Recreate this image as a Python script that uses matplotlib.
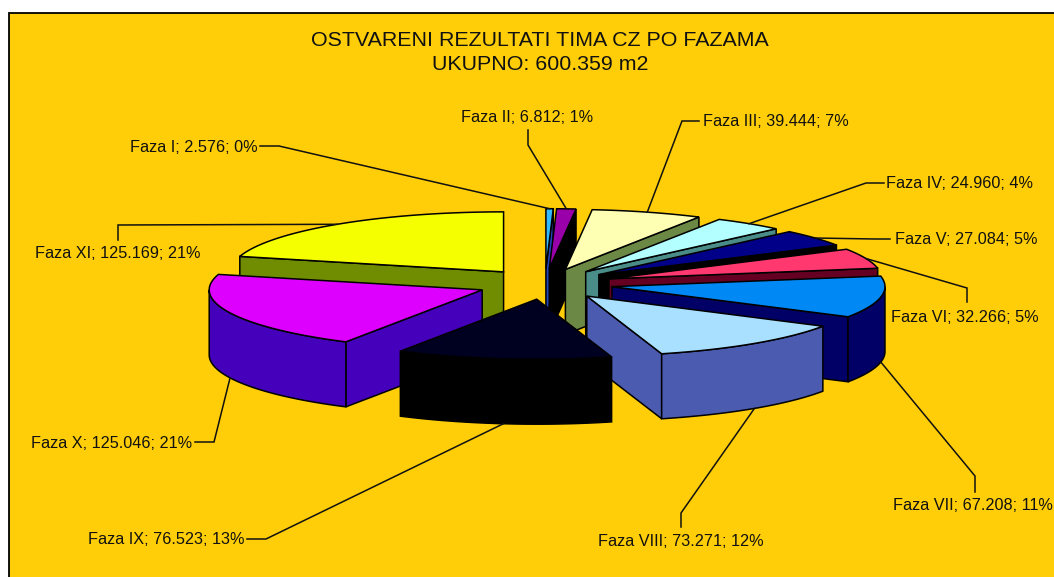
import numpy as np
import matplotlib
matplotlib.use("Agg")
import matplotlib.pyplot as plt
from matplotlib.patches import Polygon, Rectangle

plt.rcParams["font.family"] = ["Liberation Sans", "DejaVu Sans"]

names = ["Faza I", "Faza II", "Faza III", "Faza IV", "Faza V", "Faza VI",
         "Faza VII", "Faza VIII", "Faza IX", "Faza X", "Faza XI"]
values = [2.576, 6.812, 39.444, 24.960, 27.084, 32.266,
          67.208, 73.271, 76.523, 125.046, 125.169]
percents = [0, 1, 7, 4, 5, 5, 11, 12, 13, 21, 21]

top_colors = ["#33BBFF", "#9900AA", "#FFFFB3", "#B3FFFF", "#000088", "#FF3870",
              "#0088F5", "#AAE0FF", "#000020", "#DD00FF", "#F5FF00"]
side_colors = ["#2244BB", "#000000", "#6B8844", "#4A8C88", "#000000", "#660022",
               "#000066", "#4A5BB0", "#000000", "#4400BB", "#708C00"]

# pie geometry, in pixels
cx, cy = 545, 284
rx, ry = 273, 60
ex, ey = 68, 15.3
depth = 65

# label x, y, ha, then the elbow of the leader and where it leaves the label
label_pos = [(258, 147, "right"), (527, 117, "center"), (703, 121, "left"),
             (886, 184, "left"), (895, 240, "left"), (965, 318, "center"),
             (973, 505, "center"), (681, 541, "center"), (245, 540, "right"),
             (192, 443, "right"), (118, 254, "center")]
elbows = [(279, 146), (528, 145), (682, 121), (866, 183), (875, 239), (967, 288),
          (975, 476), (681, 513), (266, 539), (214, 442), (118, 225)]
leader_starts = [(260, 146), (528, 130), (699, 121), (884, 183), (890, 239), (967, 302),
                 (975, 492), (681, 527), (247, 539), (195, 442), (118, 240)]

fig = plt.figure(figsize=(10.54, 5.77), dpi=100, facecolor="white")
ax = fig.add_axes([0, 0, 1, 1])
ax.set_xlim(0, 1054)
ax.set_ylim(577, 0)
ax.axis("off")

ax.add_patch(Rectangle((8.5, 12.7), 1060, 580, fc="#FFCE08", ec="black", lw=1.3, zorder=0))

total = sum(values)
edges = np.concatenate([[0], np.cumsum(values)]) / total * 2 * np.pi
mids = (edges[:-1] + edges[1:]) / 2


def rim(t, x0, y0):
    return x0 + rx * np.sin(t), y0 - ry * np.cos(t)


# back slices first, the ones nearest the viewer go on top
order = np.argsort(-np.cos(mids))
z = 1
for i in order:
    t1, t2 = edges[i], edges[i + 1]
    x0 = cx + ex * np.sin(mids[i])
    y0 = cy - ey * np.cos(mids[i])
    ts = np.linspace(t1, t2, 60)
    xs, ys = rim(ts, x0, y0)

    # only the cut faces that turn towards the viewer
    for t, seen in ((t1, np.sin(t1) < 0), (t2, np.sin(t2) > 0)):
        if not seen:
            continue
        xe, ye = rim(t, x0, y0)
        side = [(x0, y0), (xe, ye), (xe, ye + depth), (x0, y0 + depth)]
        ax.add_patch(Polygon(side, fc=side_colors[i], ec="black", lw=1.1, zorder=z))
        z += 1

    front = np.cos(ts) <= 0
    if front.any():
        wall = list(zip(xs[front], ys[front])) + list(zip(xs[front][::-1], ys[front][::-1] + depth))
        ax.add_patch(Polygon(wall, fc=side_colors[i], ec="black", lw=1.1, zorder=z))
        z += 1

    top = [(x0, y0)] + list(zip(xs, ys))
    ax.add_patch(Polygon(top, fc=top_colors[i], ec="black", lw=1.1, zorder=z))
    z += 1

for i in range(len(values)):
    x0 = cx + ex * np.sin(mids[i])
    y0 = cy - ey * np.cos(mids[i])
    xe, ye = rim(mids[i], x0, y0)
    if np.cos(mids[i]) < 0:
        ye += depth
    ax.plot([leader_starts[i][0], elbows[i][0], xe], [leader_starts[i][1], elbows[i][1], ye],
            color="#111111", lw=1.1, zorder=z, solid_joinstyle="miter")
    lx, ly, ha = label_pos[i]
    ax.text(lx, ly, f"{names[i]}; {values[i]:.3f}; {percents[i]}%", ha=ha, va="center",
            fontsize=11.7, color="#111111", zorder=z + 1)

ax.text(540, 41, "OSTVARENI REZULTATI TIMA CZ PO FAZAMA", ha="center", va="center",
        fontsize=15.4, color="#111111", zorder=z + 1)
ax.text(540, 64, "UKUPNO: 600.359 m2", ha="center", va="center",
        fontsize=15.4, color="#111111", zorder=z + 1)

fig.savefig("out.png", dpi=100)
